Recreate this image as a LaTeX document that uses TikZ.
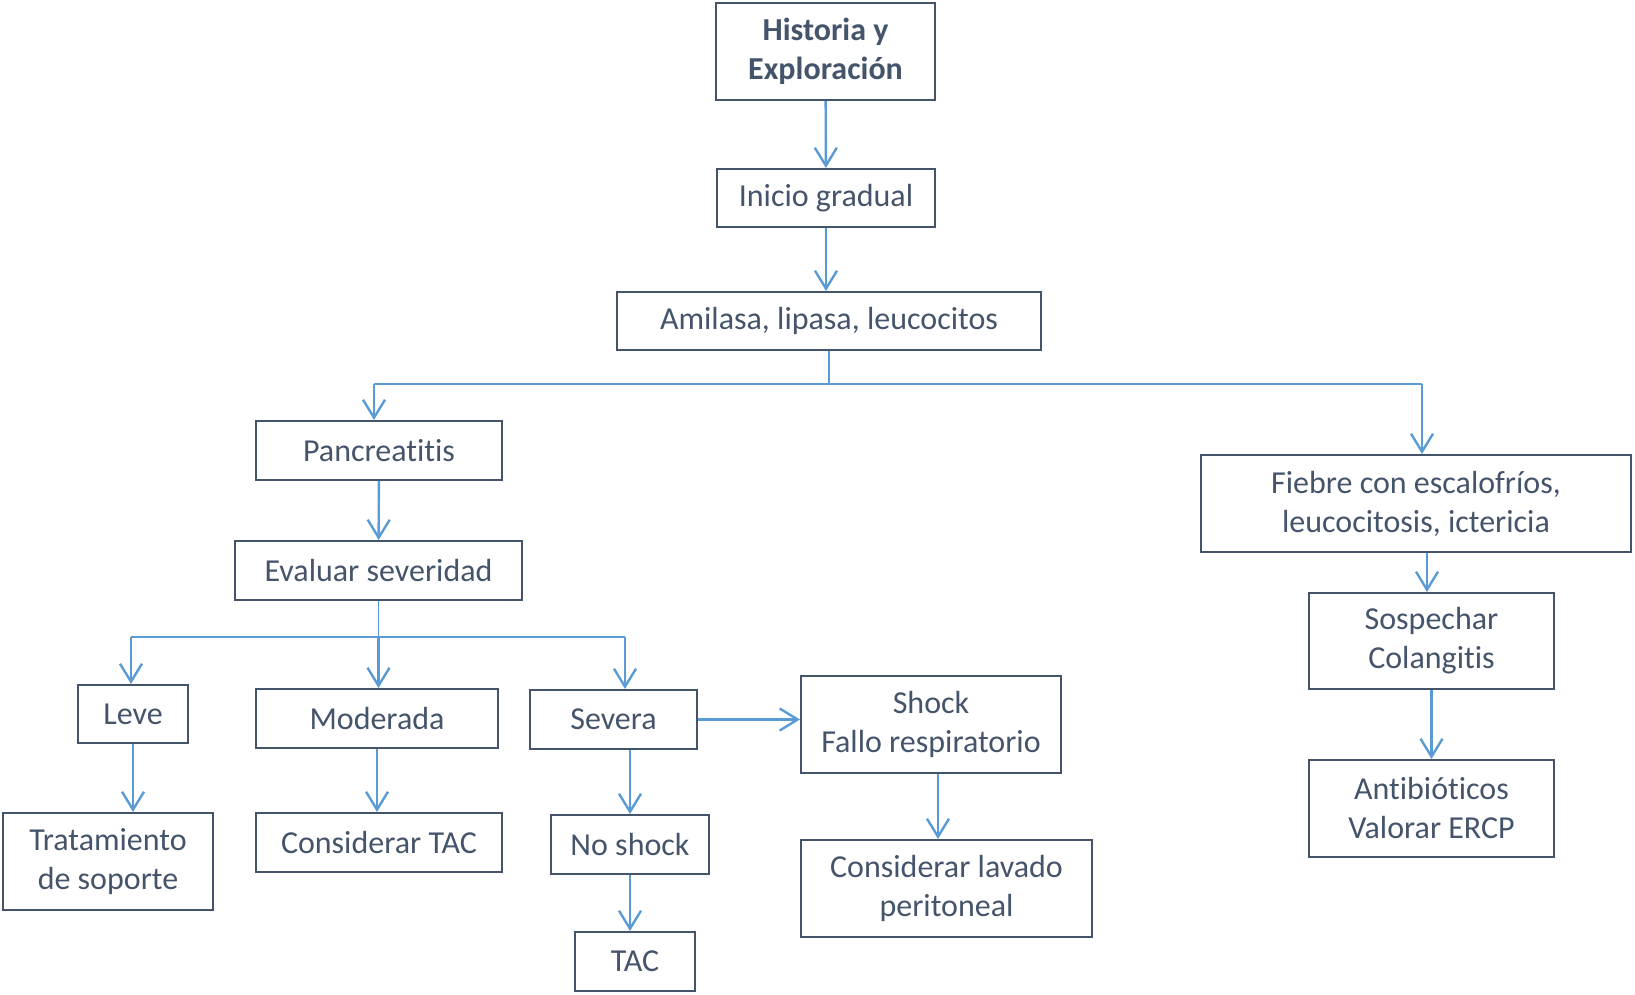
\documentclass[tikz,border=0pt]{standalone}
\usepackage{fontspec}
\setmainfont{Carlito}[RawFeature={-liga;-clig;-calt;-dlig}]
\usetikzlibrary{arrows.meta,positioning}
\definecolor{boxline}{HTML}{44546A}
\definecolor{arrowblue}{HTML}{5B9BD5}

\tikzset{
  box/.style={draw=boxline, line width=1pt, text=boxline, align=center,
    inner sep=0pt, font=\fontsize{16}{19.5}\selectfont},
  arr/.style={draw=arrowblue, line width=1.2pt,
    -{Straight Barb[length=9pt,width=11pt,line width=1.2pt]}},
  branch/.style={draw=arrowblue, line width=0.6pt}
}

\begin{document}
\begin{tikzpicture}[x=0.5pt,y=-0.5pt]
  \useasboundingbox (0,0) rectangle (1635,995);

  % Top of the chart
  \node[box, minimum width=109.5pt, minimum height=48.5pt, font=\fontsize{16}{19.5}\selectfont\bfseries]
    (hist) at (825.5,51.5) {Historia y\\Exploración};
  \node[box, minimum width=109pt, minimum height=29pt] (ini) at (826,198) {Inicio gradual};
  \node[box, minimum width=212pt, minimum height=29pt] (ami) at (829,321) {Amilasa, lipasa, leucocitos};

  % Left side: pancreatitis
  \node[box, minimum width=123pt, minimum height=29.5pt] (panc) at (379,450.5) {Pancreatitis};
  \node[box, minimum width=143.5pt, minimum height=29.5pt] (eval) at (378.5,570.5) {Evaluar severidad};
  \node[box, minimum width=55pt, minimum height=29pt] (leve) at (133,714) {Leve};
  \node[box, minimum width=121pt, minimum height=29.5pt] (mod) at (377,718.5) {Moderada};
  \node[box, minimum width=83.5pt, minimum height=29.5pt] (sev) at (613.5,719.5) {Severa};
  \node[box, minimum width=130pt, minimum height=48.5pt] (shock) at (931,724.5) {Shock\\Fallo respiratorio};
  \node[box, minimum width=105pt, minimum height=48.5pt] (trat) at (108,861.5) {Tratamiento\\de soporte};
  \node[box, minimum width=123pt, minimum height=29.5pt] (ctac) at (379,842.5) {Considerar TAC};
  \node[box, minimum width=79pt, minimum height=29.5pt] (nosh) at (630,844.5) {No shock};
  \node[box, minimum width=60pt, minimum height=29.5pt] (tac) at (635,961.5) {TAC};
  \node[box, minimum width=145.5pt, minimum height=48.5pt] (lav) at (946.5,888.5) {Considerar lavado\\peritoneal};

  % Right side: colangitis
  \node[box, minimum width=215pt, minimum height=48.5pt] (fie) at (1416,503.5) {Fiebre con escalofríos,\\leucocitosis, ictericia};
  \node[box, minimum width=122.5pt, minimum height=48pt] (sosp) at (1431.5,641) {Sospechar\\Colangitis};
  \node[box, minimum width=122.5pt, minimum height=48.5pt] (anti) at (1431.5,808.5) {Antibióticos\\Valorar ERCP};

  % Branch points
  \coordinate (bl) at (374,384);
  \coordinate (br) at (1422,384);
  \coordinate (el) at (131,637);
  \coordinate (er) at (625,637);
  \coordinate (sx) at (938,0);
  \coordinate (fx) at (1427,0);

  % Connectors
  \draw[arr] (hist) -- (ini);
  \draw[arr] (ini.south) -- (ini.south |- ami.north);
  \draw[branch] (ami.south) -- (ami.south |- bl);
  \draw[branch] (bl) -- (br);
  \draw[arr] (bl) -- (bl |- panc.north);
  \draw[arr] (br) -- (br |- fie.north);

  \draw[arr] (panc) -- (eval);
  \draw[branch] (eval.south) -- (eval.south |- el);
  \draw[branch] (el) -- (er);
  \draw[arr] (el) -- (el |- leve.north);
  \draw[arr] (eval.south |- el) -- (eval.south |- mod.north);
  \draw[arr] (er) -- (er |- sev.north);

  \draw[arr] (leve.south) -- (leve.south |- trat.north);
  \draw[arr] (mod.south) -- (mod.south |- ctac.north);
  \draw[arr] (nosh.north |- sev.south) -- (nosh.north);
  \draw[arr] (nosh.south) -- (nosh.south |- tac.north);
  \draw[arr] (sev) -- (sev -| shock.west);
  \draw[arr] (sx |- shock.south) -- (sx |- lav.north);

  \draw[arr] (fx |- fie.south) -- (fx |- sosp.north);
  \draw[arr] (sosp) -- (anti);
\end{tikzpicture}
\end{document}
